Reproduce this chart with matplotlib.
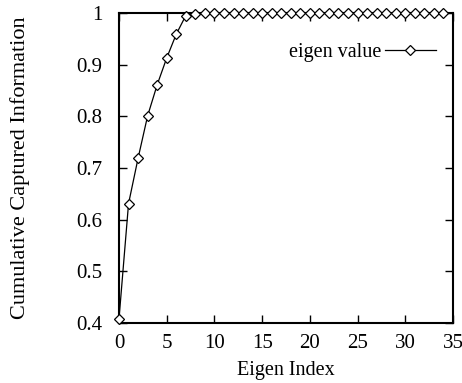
import matplotlib
matplotlib.use("Agg")
import matplotlib.pyplot as plt

eigen_index = list(range(35))
captured = [0.408, 0.631, 0.719, 0.801, 0.861, 0.913, 0.959, 0.995, 0.999] + [1.0] * 26
x_ticks = [0, 5, 10, 15, 20, 25, 30, 35]
y_ticks = [0.4, 0.5, 0.6, 0.7, 0.8, 0.9, 1.0]
y_labels = ["0.4", "0.5", "0.6", "0.7", "0.8", "0.9", "1"]

plt.rcParams['font.family'] = ['Liberation Serif', 'DejaVu Serif']

fig = plt.figure(figsize=(4.62, 3.83), dpi=100)
ax = fig.add_axes([119/462, 1 - 323/383, (453-119)/462, (323-13)/383])

ax.plot(eigen_index, captured, color='black', linewidth=0.9, marker='D',
        markersize=5.5, markerfacecolor='white', markeredgecolor='black',
        markeredgewidth=0.9, label='eigen value', clip_on=False, zorder=3)

ax.set_xlim(0, 35)
ax.set_ylim(0.4, 1.0)
ax.set_xticks(x_ticks)
ax.set_yticks(y_ticks)
ax.set_yticklabels(y_labels)
ax.tick_params(direction='in', length=6, width=1.0, labelsize=15,
               top=True, right=True)
ax.tick_params(axis='x', pad=8)
ax.tick_params(axis='y', pad=12)
for s in ax.spines.values():
    s.set_linewidth(1.5)

ax.set_xlabel('Eigen Index', fontsize=14.5, va='center')
ax.xaxis.set_label_coords((286 - 119) / 334, (323 - 370) / 310)
ax.set_ylabel('Cumulative Captured Information', fontsize=16, va='center')
ax.yaxis.set_label_coords((20 - 119) / 334, 0.5)

leg = ax.legend(loc='upper right', frameon=False, markerfirst=False,
                fontsize=14.5, handlelength=2.5, handletextpad=0.2,
                bbox_to_anchor=(0.99, 0.95), borderaxespad=0.3)

fig.savefig('out.png', dpi=100)
